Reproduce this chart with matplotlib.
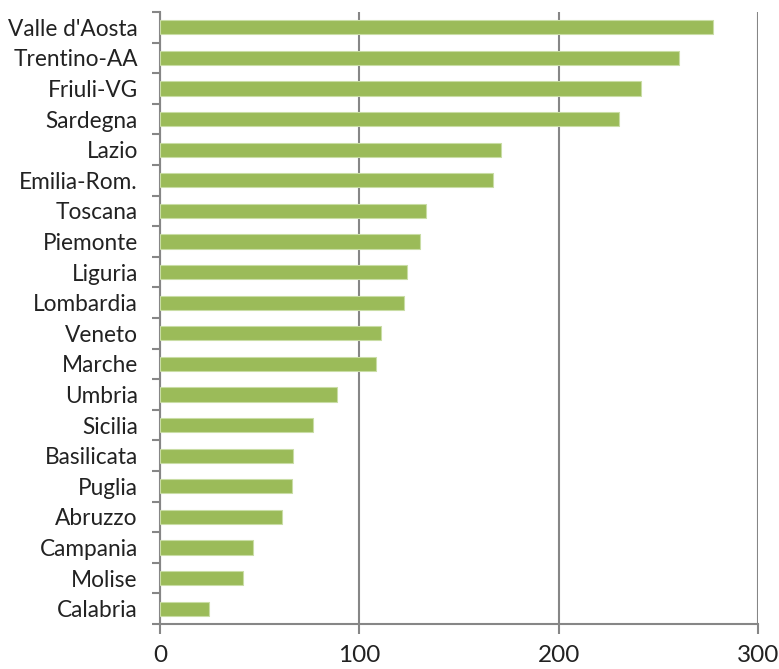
import matplotlib
matplotlib.use("Agg")
import matplotlib.pyplot as plt
import numpy as np

# dati
regioni = ["Valle d'Aosta", "Trentino-AA", "Friuli-VG", "Sardegna", "Lazio",
           "Emilia-Rom.", "Toscana", "Piemonte", "Liguria", "Lombardia",
           "Veneto", "Marche", "Umbria", "Sicilia", "Basilicata", "Puglia",
           "Abruzzo", "Campania", "Molise", "Calabria"]
valori = [277.4, 260.3, 241.5, 230.2, 171.0, 167.2, 133.4, 130.6, 124.0, 122.2,
          110.7, 108.2, 88.6, 76.8, 66.5, 66.2, 61.0, 46.5, 41.8, 24.5]
x_ticks = [0, 100, 200, 300]

verde = "#9BBB59"
grigio = "#868686"

plt.rcParams['font.family'] = ['Lato', 'DejaVu Sans']

fig = plt.figure(figsize=(7.79, 6.69), dpi=100)
ax = fig.add_axes([160 / 779, 45 / 669, 598 / 779, 612 / 669])

pos = np.arange(len(regioni))
ax.barh(pos, valori, height=0.47, color=verde, edgecolor="#C9DDA5",
        linewidth=0.8, zorder=3)

ax.set_xlim(0, 300)
ax.set_ylim(len(regioni) - 0.5, -0.5)

ax.set_xticks(x_ticks)
ax.set_xticklabels([str(t) for t in x_ticks], fontsize=17.5, color="#222222")
ax.xaxis.grid(True, color=grigio, linewidth=1.5, zorder=0)

ax.set_yticks(pos)
ax.set_yticklabels(regioni, fontsize=16.3, color="#222222")
ax.set_yticks(np.arange(-0.5, len(regioni)), minor=True)
ax.tick_params(axis="y", which="major", length=0, pad=16)
ax.tick_params(axis="y", which="minor", length=6, width=1.5, color=grigio,
               direction="out")
ax.tick_params(axis="x", length=7, width=1.5, color=grigio, direction="out",
               pad=8)

for s in ["top", "right"]:
    ax.spines[s].set_visible(False)
for s in ["left", "bottom"]:
    ax.spines[s].set_color(grigio)
    ax.spines[s].set_linewidth(1.5)

fig.savefig("out.png", dpi=100)
